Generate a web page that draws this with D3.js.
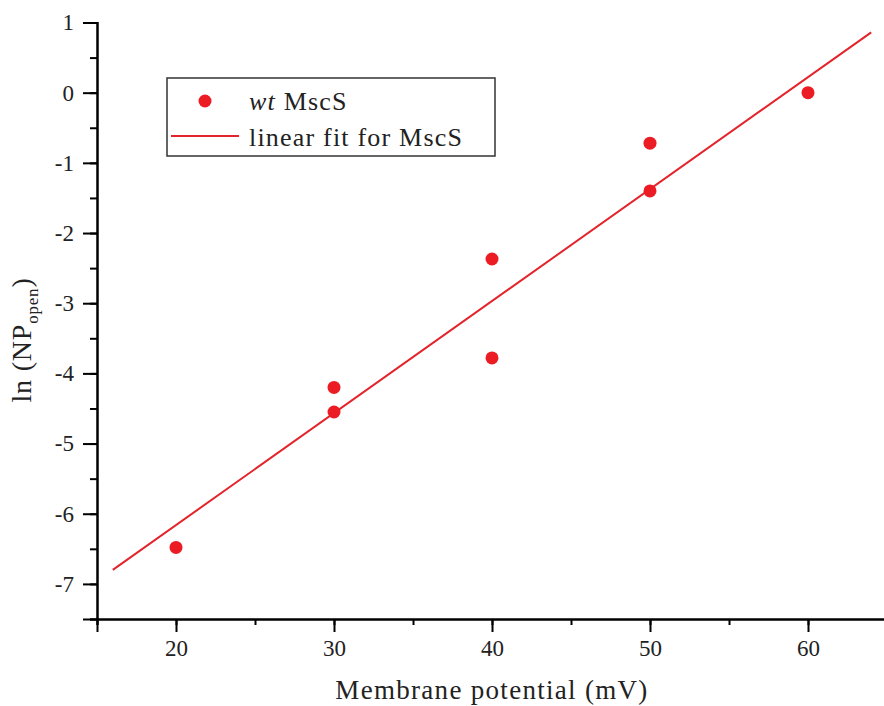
<!DOCTYPE html>
<html>
<head>
<meta charset="utf-8">
<script src="https://cdn.jsdelivr.net/npm/d3@7"></script>
<style>
  body { margin: 0; background: #fff; }
  svg { display: block; font-family: 'Liberation Serif', 'Times New Roman', serif; }
</style>
</head>
<body>
<div id="chart"></div>
<script>
const width = 884;
const height = 706;

// membrane potential (mV) and ln(NPopen)
const potential = [20, 30, 30, 40, 40, 50, 50, 60];
const lnNPopen = [-6.48, -4.2, -4.55, -2.37, -3.78, -0.72, -1.4, 0.0];

// end points of the linear fit line
const fitX = [16, 64];
const fitY = [-6.8, 0.86];

const xTicks = [20, 30, 40, 50, 60];
const yTicks = [-7, -6, -5, -4, -3, -2, -1, 0, 1];

const red = '#ec1c24';
const serif = "'Liberation Serif', 'Times New Roman', serif";

const svg = d3.select('#chart')
    .append('svg')
    .attr('width', width)
    .attr('height', height);

const x = d3.scaleLinear()
    .domain([15, 65])
    .range([97, 887]);

const y = d3.scaleLinear()
    .domain([-7.5, 1])
    .range([619, 22.5]);

// x axis
const xAxis = svg.append('g')
    .attr('transform', `translate(0, ${y(-7.5)})`);

xAxis.call(d3.axisBottom(x)
    .tickValues(d3.range(15, 66, 5))
    .tickSize(6)
    .tickFormat(''));

xAxis.append('g').call(d3.axisBottom(x)
    .tickValues(xTicks)
    .tickSize(13)
    .tickPadding(8)
    .tickFormat(d3.format('d')));

// y axis
const yAxis = svg.append('g')
    .attr('transform', `translate(${x(15)}, 0)`);

yAxis.call(d3.axisLeft(y)
    .tickValues(d3.range(-7.5, 1.01, 0.5))
    .tickSize(7)
    .tickFormat(''));

yAxis.append('g').call(d3.axisLeft(y)
    .tickValues(yTicks)
    .tickSize(14)
    .tickPadding(9)
    .tickFormat(d => d < 0 ? '-' + Math.abs(d) : d));

svg.selectAll('g').attr('font-family', null);
svg.selectAll('.domain')
    .attr('stroke', '#000')
    .attr('stroke-width', 2);
svg.selectAll('.tick line')
    .attr('stroke', '#000')
    .attr('stroke-width', 2);
svg.selectAll('.tick text')
    .attr('fill', '#222')
    .style('font-size', '23px')
    .style('font-family', serif);

// fit line
const line = d3.line()
    .x(d => x(d[0]))
    .y(d => y(d[1]));

svg.append('path')
    .datum(d3.zip(fitX, fitY))
    .attr('d', line)
    .attr('fill', 'none')
    .attr('stroke', '#e3242b')
    .attr('stroke-width', 2);

// points
svg.append('g')
    .selectAll('circle')
    .data(d3.zip(potential, lnNPopen))
    .enter()
    .append('circle')
    .attr('cx', d => x(d[0]))
    .attr('cy', d => y(d[1]))
    .attr('r', 6.5)
    .attr('fill', red);

// legend
const legend = svg.append('g');

legend.append('rect')
    .attr('x', 167)
    .attr('y', 78)
    .attr('width', 328)
    .attr('height', 78)
    .attr('fill', '#fff')
    .attr('stroke', '#333')
    .attr('stroke-width', 1.5);

legend.append('circle')
    .attr('cx', 205)
    .attr('cy', 101)
    .attr('r', 6.5)
    .attr('fill', red);

legend.append('line')
    .attr('x1', 171)
    .attr('x2', 239)
    .attr('y1', 136)
    .attr('y2', 136)
    .attr('stroke', '#e3242b')
    .attr('stroke-width', 2);

const t1 = legend.append('text')
    .attr('x', 249)
    .attr('y', 110)
    .attr('fill', '#222')
    .style('font-size', '26px')
    .style('letter-spacing', '1.2px');
t1.append('tspan').style('font-style', 'italic').text('wt');
t1.append('tspan').text(' MscS');

legend.append('text')
    .attr('x', 249)
    .attr('y', 146)
    .attr('fill', '#222')
    .style('font-size', '26px')
    .style('letter-spacing', '1.2px')
    .text('linear fit for MscS');

// axis titles
svg.append('text')
    .attr('x', 492)
    .attr('y', 699)
    .attr('text-anchor', 'middle')
    .attr('fill', '#222')
    .style('font-size', '27px')
    .style('letter-spacing', '1.3px')
    .text('Membrane potential (mV)');

const yTitle = svg.append('text')
    .attr('transform', 'translate(31, 340) rotate(-90)')
    .attr('text-anchor', 'middle')
    .attr('fill', '#222')
    .style('font-size', '28px')
    .style('letter-spacing', '0.8px');
yTitle.append('tspan').text('ln (NP');
yTitle.append('tspan').attr('dy', 7).style('font-size', '17px').text('open');
yTitle.append('tspan').attr('dy', -7).text(')');
</script>
</body>
</html>
